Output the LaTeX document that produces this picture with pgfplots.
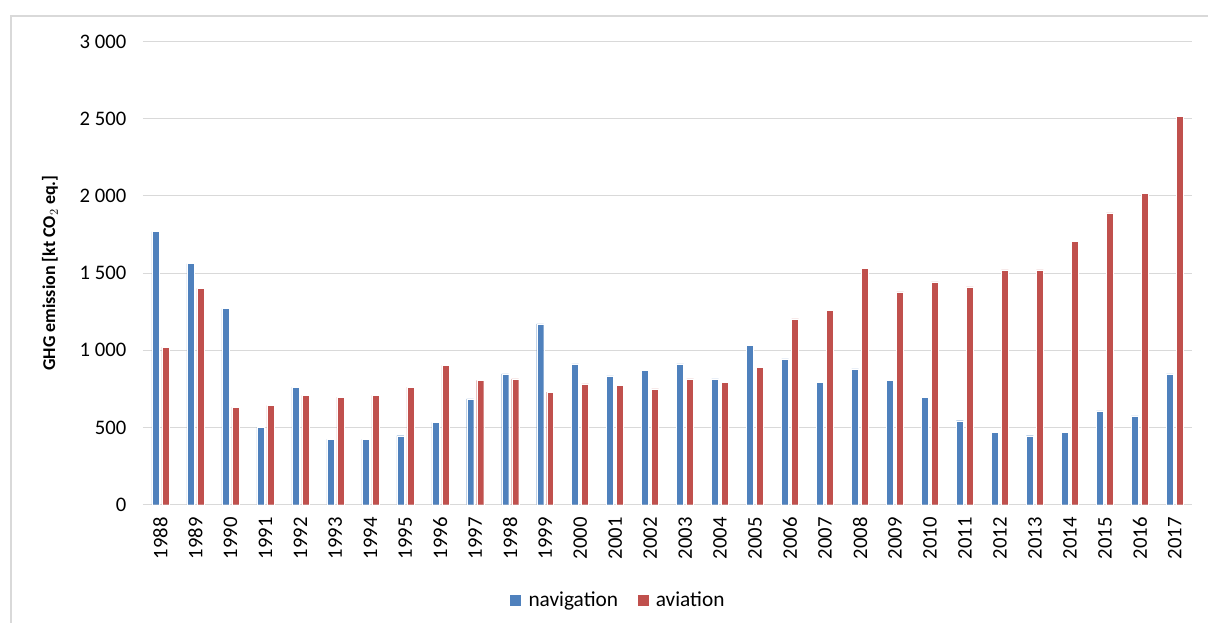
\documentclass[border=0pt]{standalone}
\usepackage{pgfplots}
\pgfplotsset{compat=1.18}
\usepackage{pgfplotstable}
\usepackage{fontspec}
\setmainfont{Carlito}
\definecolor{navblue}{HTML}{4F81BD}
\definecolor{avred}{HTML}{C0504D}
\definecolor{gridgray}{HTML}{D9D9D9}

% idx year navigation aviation, kt CO2 eq.
\pgfplotstableread{
idx year nav av
0 1988 1769 1021
1 1989 1562 1402
2 1990 1271 632
3 1991 503 643
4 1992 762 708
5 1993 425 697
6 1994 425 708
7 1995 447 762
8 1996 533 902
9 1997 686 805
10 1998 848 815
11 1999 1171 729
12 2000 913 783
13 2001 835 772
14 2002 869 751
15 2003 913 815
16 2004 815 794
17 2005 1031 891
18 2006 945 1204
19 2007 794 1260
20 2008 880 1532
21 2009 805 1379
22 2010 697 1443
23 2011 544 1411
24 2012 468 1521
25 2013 447 1521
26 2014 468 1704
27 2015 608 1890
28 2016 576 2017
29 2017 848 2518
}\emissions

\begin{document}
\begin{tikzpicture}
\path (0pt,0pt) rectangle (906.75pt,467.25pt);
\draw[gridgray,line width=1pt] (8.25pt,0pt) -- (8.25pt,455.25pt) -- (906.75pt,455.25pt);
\begin{axis}[
  at={(107.25pt,88.5pt)}, anchor=south west,
  scale only axis, width=787.5pt, height=347.5pt,
  ybar, bar width=5.25pt,
  xmin=-0.5, xmax=29.5, ymin=0, ymax=3000,
  ytick={0,500,...,3000},
  xtick=data,
  xticklabels from table={\emissions}{year},
  xticklabel style={rotate=90, anchor=east, font=\fontsize{15.5}{17}\selectfont},
  xticklabel shift=6pt,
  yticklabel style={font=\fontsize{15.5}{17}\selectfont, xshift=-9pt},
  /pgf/number format/assume math mode=true,
  /pgf/number format/1000 sep={\ },
  ymajorgrids, grid style={gridgray, line width=0.75pt},
  major tick length=0pt,
  axis line style={draw=none},
  axis x line*=bottom, axis y line*=left,
  ylabel={\bfseries GHG emission [kt CO$_2$ eq.]},
  ylabel style={font=\fontsize{13.5}{15}\selectfont, at={(axis description cs:-0.0886,0.5)}, anchor=center},
  legend style={at={(axis description cs:0.453,-0.207)}, anchor=center, draw=none,
    legend columns=2, font=\fontsize{16}{18}\selectfont,
    /tikz/every odd column/.append style={column sep=3pt},
    /tikz/every even column/.append style={column sep=12pt}},
  legend image code/.code={\fill[#1] (0pt,-4.5pt) rectangle (9pt,4.5pt);},
]
\addplot[fill=navblue, draw=white, line width=0.3pt, bar shift=-3.75pt] table[x=idx,y=nav]{\emissions};
\addplot[fill=avred, draw=white, line width=0.3pt, bar shift=3.75pt] table[x=idx,y=av]{\emissions};
\legend{navigation, aviation}
\end{axis}
\end{tikzpicture}
\end{document}
